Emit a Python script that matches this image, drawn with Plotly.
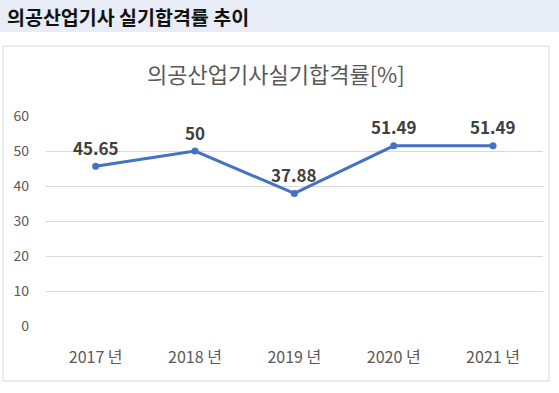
import plotly.graph_objects as go

categories = ["2017 년", "2018 년", "2019 년", "2020 년", "2021 년"]
values = [45.65, 50, 37.88, 51.49, 51.49]
labels = ["45.65", "50", "37.88", "51.49", "51.49"]
y_ticks = [0, 10, 20, 30, 40, 50, 60]

W, H = 559, 393
FONT = "Noto Sans CJK KR"

def px_x(p):
    return p / W

def px_y(p):
    return 1 - p / H

fig = go.Figure()
fig.add_trace(go.Scatter(
    x=categories, y=values, mode="lines+markers",
    line=dict(color="#4472C4", width=3),
    marker=dict(color="#4472C4", size=7),
    cliponaxis=False, hoverinfo="skip",
))

annotations = [
    dict(x=c, y=v, text=t, xref="x", yref="y", showarrow=False,
         yshift=19, xanchor="center", yanchor="middle",
         font=dict(family=FONT, size=17, color="#404040", weight="bold"))
    for c, v, t in zip(categories, values, labels)
]
annotations += [
    dict(text="의공산업기사 실기합격률 추이", xref="paper", yref="paper",
         x=px_x(5), y=px_y(16), xanchor="left", yanchor="middle",
         showarrow=False,
         font=dict(family=FONT, size=19.5, color="#111111", weight="bold")),
    dict(text="의공산업기사실기합격률[%]", xref="paper", yref="paper",
         x=px_x(276), y=px_y(73), xanchor="center", yanchor="middle",
         showarrow=False,
         font=dict(family=FONT, size=22, color="#595959")),
]

fig.update_layout(
    width=W, height=H,
    margin=dict(l=0, r=0, t=0, b=0),
    paper_bgcolor="white", plot_bgcolor="white",
    showlegend=False,
    font=dict(family=FONT, color="#595959"),
    xaxis=dict(domain=[px_x(46), px_x(542.7)], automargin=False,
               range=[-0.5, 4.5],
               showgrid=False, showline=False, ticks="", zeroline=False,
               tickfont=dict(size=16, color="#595959"), ticklabelstandoff=20),
    yaxis=dict(domain=[px_y(326), px_y(116)], automargin=False,
               range=[0, 60], tickvals=y_ticks, showgrid=True,
               gridcolor="#D9D9D9", gridwidth=1, zeroline=False,
               showline=False, ticks="",
               tickfont=dict(size=14, color="#595959"), ticklabelstandoff=16),
    shapes=[
        dict(type="rect", xref="paper", yref="paper",
             x0=0, x1=1, y0=px_y(32), y1=1,
             fillcolor="#E7ECF7", line=dict(width=0), layer="below"),
        dict(type="rect", xref="paper", yref="paper",
             x0=px_x(3), x1=px_x(549), y0=px_y(381), y1=px_y(46),
             fillcolor="rgba(0,0,0,0)", line=dict(color="#D9D9D9", width=1),
             layer="below"),
    ],
    annotations=annotations,
)

fig.write_html(
    "out.html",
    config={"displayModeBar": False},
    post_script="document.body.style.margin='0';document.body.style.overflow='hidden';",
)
